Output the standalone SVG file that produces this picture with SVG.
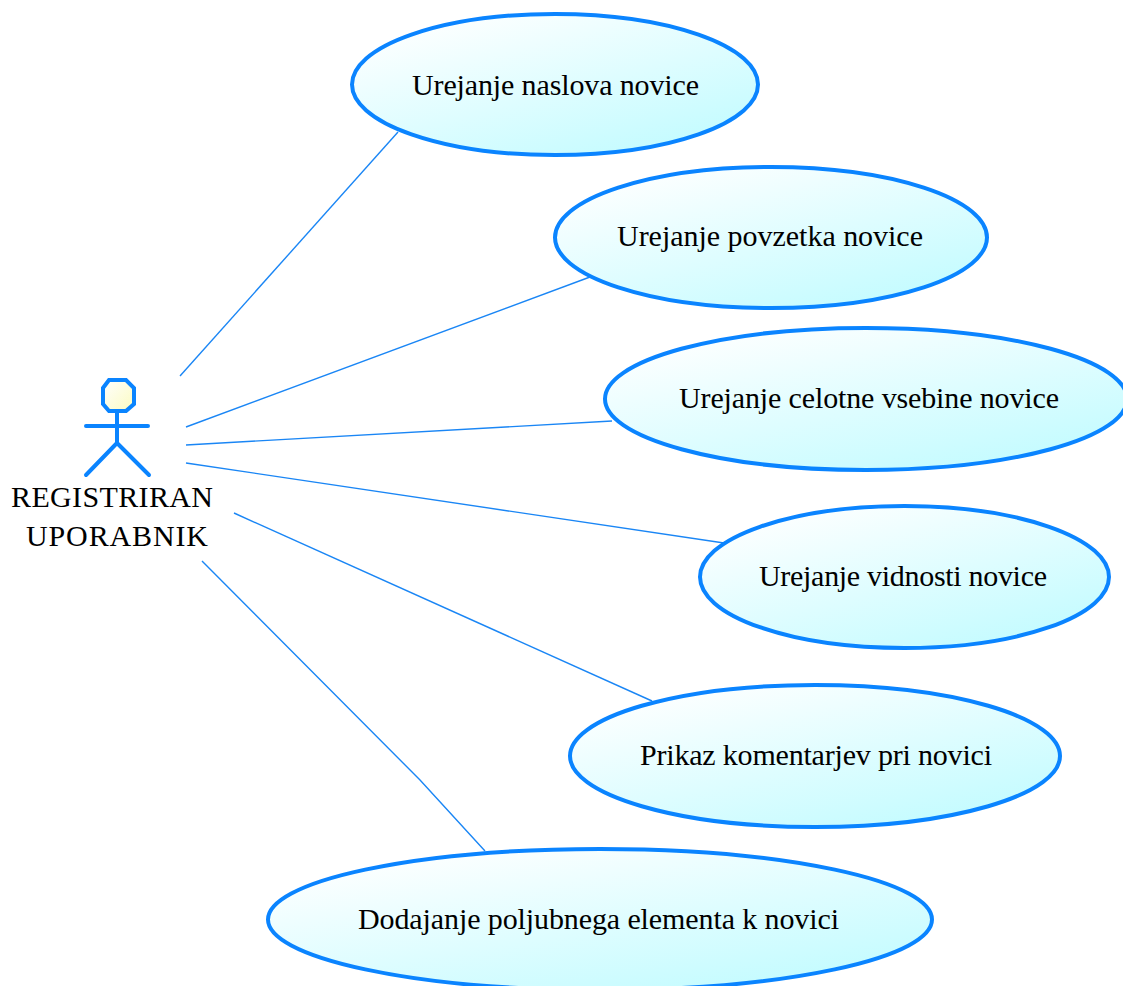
<svg xmlns="http://www.w3.org/2000/svg" width="1123" height="986" viewBox="0 0 1123 986">
<style>
.uc{stroke:#0a84ff;stroke-width:4;fill:url(#g)}
.c{stroke:#1a86f5;stroke-width:1.4;fill:none}
.a{stroke:#0a84ff;stroke-width:4;fill:none;stroke-linecap:round}
text{font-family:"Liberation Serif","Times New Roman",serif;font-size:30px;fill:#000;text-anchor:middle}
</style>
<defs>
<linearGradient id="g" x1="0.2" y1="0" x2="0.95" y2="1"><stop offset="0" stop-color="#ffffff"/><stop offset="1" stop-color="#bdfbff"/></linearGradient>
<linearGradient id="h" x1="0" y1="0" x2="1" y2="1"><stop offset="0" stop-color="#ffffff"/><stop offset="1" stop-color="#fbfbc0"/></linearGradient>
</defs>
<rect width="1123" height="986" fill="#fff"/>
<g id="connectors">
<line class="c" x1="180" y1="376" x2="398" y2="132"/>
<line class="c" x1="186" y1="427" x2="590" y2="277"/>
<line class="c" x1="186" y1="445" x2="612" y2="421"/>
<line class="c" x1="186" y1="463" x2="724" y2="543"/>
<line class="c" x1="234" y1="513" x2="652" y2="701"/>
<polyline class="c" points="202,561 420,780 485,851"/>
</g>
<g id="actor">
<path d="M109 380H126L134 388V404L126 411H109L103 404V388Z" fill="url(#h)" stroke="#0a84ff" stroke-width="4"/>
<path class="a" d="M117 411V443M86 426H148M117 443L86 475M117 443L149 475"/>
<text x="112" y="507" textLength="202">REGISTRIRAN</text>
<text x="117" y="546" textLength="182">UPORABNIK</text>
</g>
<g id="uc1"><ellipse class="uc" cx="555" cy="84.500" rx="203" ry="70.500"/><text x="555.500" y="95" textLength="287">Urejanje naslova novice</text></g>
<g id="uc2"><ellipse class="uc" cx="771" cy="237.500" rx="216" ry="70.500"/><text x="770" y="246" textLength="306">Urejanje povzetka novice</text></g>
<g id="uc3"><ellipse class="uc" cx="866" cy="399" rx="261" ry="71"/><text x="869" y="408" textLength="380">Urejanje celotne vsebine novice</text></g>
<g id="uc4"><ellipse class="uc" cx="904.500" cy="577" rx="204.500" ry="71"/><text x="903" y="586" textLength="288">Urejanje vidnosti novice</text></g>
<g id="uc5"><ellipse class="uc" cx="815" cy="756" rx="245" ry="71"/><text x="816" y="765" textLength="352">Prikaz komentarjev pri novici</text></g>
<g id="uc6"><ellipse class="uc" cx="600" cy="919.500" rx="332" ry="70.500"/><text x="598.500" y="929" textLength="481">Dodajanje poljubnega elementa k novici</text></g>
</svg>
